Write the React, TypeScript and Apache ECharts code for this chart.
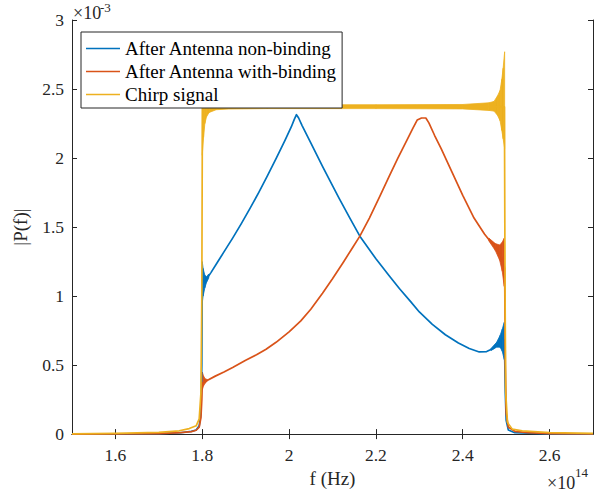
import React, { useEffect, useRef } from "react";
import * as echarts from "echarts";

// Frequency in units of 1e14 Hz, |P(f)| in units of 1e-3
const xTickValues = [1.6, 1.8, 2.0, 2.2, 2.4, 2.6];
const yTickValues = [0, 0.5, 1, 1.5, 2, 2.5, 3];

const seriesNames = [
  "After Antenna non-binding",
  "After Antenna with-binding",
  "Chirp signal",
];
const seriesColors = ["#0072BD", "#D95319", "#EDB120"];

const nonBinding: [number, number][] = [
  [1.5, 0], [1.6, 0.001], [1.7, 0.004], [1.75, 0.01], [1.775, 0.02], [1.786, 0.03],
  [1.793, 0.06], [1.797, 0.15], [1.799, 0.5], [1.8, 1.12], [1.805, 1.1], [1.82, 1.17],
  [1.835, 1.245], [1.85, 1.32], [1.87, 1.42], [1.89, 1.525], [1.91, 1.635], [1.93, 1.75],
  [1.95, 1.87], [1.97, 1.995], [1.99, 2.125], [2.005, 2.225], [2.012, 2.28], [2.017, 2.314],
  [2.022, 2.29], [2.03, 2.235], [2.05, 2.11], [2.077, 1.94], [2.1, 1.8], [2.115, 1.71],
  [2.14, 1.565], [2.163, 1.434], [2.2, 1.27], [2.231, 1.145], [2.254, 1.055], [2.28, 0.96],
  [2.3, 0.885], [2.33, 0.795], [2.36, 0.72], [2.39, 0.66], [2.415, 0.62], [2.438, 0.595],
  [2.455, 0.598], [2.47, 0.62], [2.482, 0.655], [2.491, 0.695], [2.496, 0.68],
  [2.498, 0.3], [2.5, 0.1], [2.505, 0.03], [2.52, 0.01], [2.6, 0.002], [2.7, 0],
];

const withBinding: [number, number][] = [
  [1.5, 0], [1.6, 0.001], [1.7, 0.004], [1.75, 0.01], [1.775, 0.018], [1.786, 0.028],
  [1.793, 0.05], [1.797, 0.12], [1.799, 0.25], [1.8, 0.37], [1.809, 0.385], [1.83, 0.42],
  [1.85, 0.45], [1.87, 0.482], [1.9, 0.535], [1.925, 0.575], [1.947, 0.615], [1.97, 0.665],
  [2.0, 0.74], [2.027, 0.82], [2.05, 0.905], [2.077, 1.02], [2.1, 1.125], [2.125, 1.245],
  [2.145, 1.345], [2.163, 1.434], [2.185, 1.565], [2.21, 1.73], [2.231, 1.87], [2.25, 1.995],
  [2.27, 2.12], [2.285, 2.215], [2.295, 2.275], [2.305, 2.29], [2.315, 2.29], [2.322, 2.255],
  [2.335, 2.165], [2.35, 2.07], [2.375, 1.9], [2.4, 1.73], [2.426, 1.565], [2.45, 1.45],
  [2.47, 1.37], [2.485, 1.31], [2.493, 1.26], [2.4965, 1.2],
  [2.498, 0.5], [2.5, 0.15], [2.505, 0.05], [2.52, 0.02], [2.55, 0.01], [2.6, 0.004], [2.7, 0.001],
];

const chirp: [number, number][] = [
  [1.5, 0.002], [1.6, 0.005], [1.7, 0.012], [1.747, 0.024], [1.77, 0.04], [1.786, 0.06],
  [1.793, 0.11], [1.797, 0.3], [1.799, 1.0], [1.8, 2.0], [1.8005, 2.39], [1.81, 2.37],
  [1.85, 2.372], [2.0, 2.372], [2.2, 2.372], [2.4, 2.372], [2.47, 2.372], [2.496, 2.37],
  [2.4975, 1.0], [2.499, 0.3], [2.503, 0.085], [2.514, 0.036], [2.537, 0.024], [2.6, 0.01], [2.7, 0.005],
];

// Oscillation envelopes: [f, lower, upper]
const nonBindingBandStart: [number, number, number][] = [
  [1.8, 0.95, 1.25], [1.802, 1.0, 1.2], [1.806, 1.06, 1.15], [1.81, 1.1, 1.14], [1.815, 1.13, 1.16],
];
const nonBindingBandEnd: [number, number, number][] = [
  [2.465, 0.605, 0.62], [2.478, 0.63, 0.665], [2.486, 0.63, 0.715], [2.491, 0.6, 0.76], [2.4955, 0.54, 0.81],
];
const withBindingBandStart: [number, number, number][] = [
  [1.8, 0.32, 0.45], [1.803, 0.35, 0.42], [1.807, 0.37, 0.4], [1.812, 0.385, 0.395],
];
const withBindingBandEnd: [number, number, number][] = [
  [2.46, 1.4, 1.42], [2.475, 1.33, 1.38], [2.485, 1.26, 1.37], [2.491, 1.18, 1.39], [2.4955, 1.07, 1.42],
];
const chirpBand: [number, number, number][] = [
  [1.8, 2.02, 2.41], [1.803, 2.15, 2.4], [1.806, 2.25, 2.395], [1.81, 2.3, 2.39], [1.816, 2.33, 2.39],
  [1.832, 2.35, 2.39], [1.86, 2.355, 2.388], [1.95, 2.358, 2.386], [2.2, 2.358, 2.386],
  [2.4, 2.356, 2.388], [2.46, 2.345, 2.4], [2.472, 2.34, 2.41], [2.48, 2.31, 2.45],
  [2.486, 2.27, 2.49], [2.49, 2.2, 2.57], [2.493, 2.14, 2.65], [2.4965, 2.07, 2.77],
];

const FONT = "'Liberation Serif', 'Times New Roman', serif";
const AXIS = "#262626";

function toSegments(band: [number, number, number][]) {
  const out: number[][] = [];
  for (let i = 0; i < band.length - 1; i++) {
    out.push([band[i][0], band[i][1], band[i][2], band[i + 1][0], band[i + 1][1], band[i + 1][2]]);
  }
  return out;
}

function bandSeries(name: string, color: string, segs: number[][]) {
  return {
    type: "custom",
    name,
    silent: true,
    data: segs,
    encode: { x: [0, 3], y: [1, 2, 4, 5] },
    renderItem: (_p: any, api: any) => {
      const a = api.coord([api.value(0), api.value(1)]);
      const b = api.coord([api.value(3), api.value(4)]);
      const c = api.coord([api.value(3), api.value(5)]);
      const d = api.coord([api.value(0), api.value(2)]);
      return {
        type: "polygon",
        shape: { points: [a, b, c, d] },
        style: { fill: color, stroke: color, lineWidth: 0.8 },
      };
    },
  };
}

function lineSeries(name: string, color: string, data: [number, number][]) {
  return {
    type: "line",
    name,
    data,
    showSymbol: false,
    symbol: "none",
    lineStyle: { color, width: 1.7, join: "round" },
    itemStyle: { color },
  };
}

export default function App() {
  const ref = useRef<HTMLDivElement>(null);
  useEffect(() => {
    if (!ref.current) return;
    const chart = echarts.init(ref.current, undefined, { renderer: "svg" });
    const fmt = (v: number) => String(parseFloat(v.toFixed(2)));
    const tickStyle = { inside: true, length: 5, lineStyle: { color: AXIS, width: 1 } };
    chart.setOption({
      animation: false,
      backgroundColor: "#ffffff",
      grid: { left: 72, right: 15, top: 20, bottom: 58, containLabel: false },
      legend: {
        data: seriesNames,
        orient: "vertical",
        left: 81,
        top: 32,
        icon: "rect",
        itemWidth: 34,
        itemHeight: 1.6,
        itemGap: 4,
        padding: [7, 5, 4, 5],
        borderColor: AXIS,
        borderWidth: 1,
        backgroundColor: "#ffffff",
        selectedMode: false,
        textStyle: { fontFamily: FONT, fontSize: 19, color: "#000", lineHeight: 18, padding: [0, 0, 0, 0] },
      },
      xAxis: [
        {
          type: "value",
          min: 1.5,
          max: 2.7,
          position: "bottom",
          name: "f (Hz)",
          nameLocation: "middle",
          nameGap: 33,
          nameTextStyle: { fontFamily: FONT, fontSize: 19, color: AXIS },
          axisLine: { show: true, lineStyle: { color: AXIS, width: 1 } },
          axisTick: { ...tickStyle, customValues: xTickValues },
          axisLabel: {
            customValues: xTickValues,
            formatter: fmt,
            fontFamily: FONT,
            fontSize: 17.5,
            color: AXIS,
            margin: 12,
          },
          splitLine: { show: false },
        },
        {
          type: "value",
          min: 1.5,
          max: 2.7,
          position: "top",
          axisLine: { show: true, lineStyle: { color: AXIS, width: 1 } },
          axisTick: { ...tickStyle, customValues: xTickValues },
          axisLabel: { show: false, customValues: xTickValues },
          splitLine: { show: false },
        },
      ],
      yAxis: [
        {
          type: "value",
          min: 0,
          max: 3,
          interval: 0.5,
          position: "left",
          name: "|P(f)|",
          nameLocation: "middle",
          nameGap: 42,
          nameTextStyle: { fontFamily: FONT, fontSize: 19, color: AXIS },
          axisLine: { show: true, lineStyle: { color: AXIS, width: 1 } },
          axisTick: { ...tickStyle, customValues: yTickValues },
          axisLabel: {
            customValues: yTickValues,
            formatter: fmt,
            fontFamily: FONT,
            fontSize: 17.5,
            color: AXIS,
            margin: 8,
          },
          splitLine: { show: false },
        },
        {
          type: "value",
          min: 0,
          max: 3,
          interval: 0.5,
          position: "right",
          axisLine: { show: true, lineStyle: { color: AXIS, width: 1 } },
          axisTick: { ...tickStyle, customValues: yTickValues },
          axisLabel: { show: false },
          splitLine: { show: false },
        },
      ],
      graphic: [
        {
          type: "text",
          x: 73,
          y: 13,
          style: { text: "×10", fontFamily: FONT, fontSize: 18, fill: AXIS, textAlign: "left", textVerticalAlign: "middle" },
        },
        {
          type: "text",
          x: 100,
          y: 7.5,
          style: { text: "-3", fontFamily: FONT, fontSize: 13, fill: AXIS, textAlign: "left", textVerticalAlign: "middle" },
        },
        {
          type: "text",
          x: 547,
          y: 483,
          style: { text: "×10", fontFamily: FONT, fontSize: 18, fill: AXIS, textAlign: "left", textVerticalAlign: "middle" },
        },
        {
          type: "text",
          x: 575,
          y: 472,
          style: { text: "14", fontFamily: FONT, fontSize: 13, fill: AXIS, textAlign: "left", textVerticalAlign: "middle" },
        },
      ],
      series: [
        bandSeries("nb-band", seriesColors[0], [...toSegments(nonBindingBandStart), ...toSegments(nonBindingBandEnd)]),
        lineSeries(seriesNames[0], seriesColors[0], nonBinding),
        bandSeries("wb-band", seriesColors[1], [...toSegments(withBindingBandStart), ...toSegments(withBindingBandEnd)]),
        lineSeries(seriesNames[1], seriesColors[1], withBinding),
        bandSeries("chirp-band", seriesColors[2], toSegments(chirpBand)),
        lineSeries(seriesNames[2], seriesColors[2], chirp),
      ],
    });
    return () => chart.dispose();
  }, []);
  return (
    <div
      ref={ref}
      style={{ position: "absolute", left: 0, top: 0, width: 608, height: 493, background: "#fff" }}
    />
  );
}
